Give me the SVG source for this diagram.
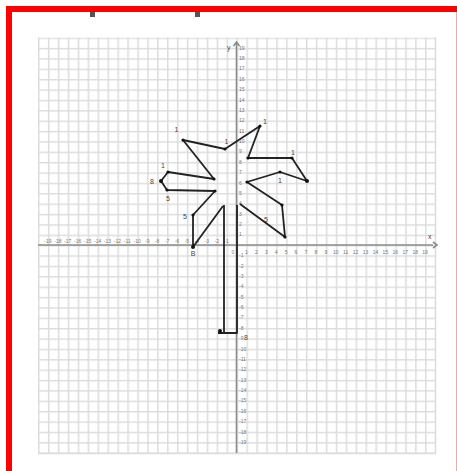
<svg xmlns="http://www.w3.org/2000/svg" width="457" height="471" viewBox="0 0 457 471">
<style>
.tk{font-family:"Liberation Sans",Arial,sans-serif;font-size:5px;fill:#777}
.lb{font-family:"Liberation Sans",Arial,sans-serif;font-size:7px;fill:#444}
.ax{stroke:#8a8a8a;stroke-width:1.6;fill:none}
.ln{stroke:#222;stroke-width:1.8;fill:none;stroke-linejoin:round}
.pt{fill:#111}
</style>
<defs>
<pattern id="grid" x="38" y="37.5" width="9.925" height="10.375" patternUnits="userSpaceOnUse">
<path d="M0.75,0V10.375M0,0.75H9.925" stroke="#dcdcdc" stroke-width="1.5" fill="none"/>
</pattern>
</defs>
<rect width="457" height="471" fill="#fff"/>
<path d="M9,471V9H457" stroke="#ff0000" stroke-width="6" fill="none"/>
<line x1="456.5" y1="12" x2="456.5" y2="471" stroke="#f6a5a5" stroke-width="1"/>
<rect x="90" y="12" width="5" height="5" fill="#555"/>
<rect x="195" y="12" width="5" height="5" fill="#555"/>
<g id="grid-paper">
<rect x="38" y="37.5" width="398" height="416.5" fill="url(#grid)"/>
<path d="M435.5,37.5V453.5M38,453.5H436" stroke="#dcdcdc" stroke-width="1.5"/>
</g>
<g id="axes">
<line class="ax" x1="38" y1="245" x2="433" y2="245"/>
<path d="M433,242L437,245L433,248" class="ax"/>
<line class="ax" x1="236.5" y1="42" x2="236.5" y2="453"/>
<path d="M233.5,46L236.5,42L239.5,46" class="ax"/>
<text class="lb" x="428" y="239">x</text>
<text class="lb" x="227" y="50">y</text>
<text class="tk" x="233" y="254" text-anchor="middle">0</text>
</g>
<g id="x-ticks" text-anchor="middle">
<text class="tk" x="47.9" y="243">-19</text><text class="tk" x="57.9" y="243">-18</text><text class="tk" x="67.8" y="243">-17</text><text class="tk" x="77.7" y="243">-16</text><text class="tk" x="87.6" y="243">-15</text><text class="tk" x="97.6" y="243">-14</text><text class="tk" x="107.5" y="243">-13</text><text class="tk" x="117.4" y="243">-12</text><text class="tk" x="127.3" y="243">-11</text><text class="tk" x="137.3" y="243">-10</text><text class="tk" x="147.2" y="243">-9</text><text class="tk" x="157.1" y="243">-8</text><text class="tk" x="167" y="243">-7</text><text class="tk" x="177" y="243">-6</text><text class="tk" x="186.9" y="243">-5</text><text class="tk" x="196.8" y="243">-4</text><text class="tk" x="206.7" y="243">-3</text><text class="tk" x="216.7" y="243">-2</text><text class="tk" x="226.6" y="243">-1</text>
<text class="tk" x="246.4" y="254">1</text><text class="tk" x="256.4" y="254">2</text><text class="tk" x="266.3" y="254">3</text><text class="tk" x="276.2" y="254">4</text><text class="tk" x="286.1" y="254">5</text><text class="tk" x="296" y="254">6</text><text class="tk" x="306" y="254">7</text><text class="tk" x="315.9" y="254">8</text><text class="tk" x="325.8" y="254">9</text><text class="tk" x="335.8" y="254">10</text><text class="tk" x="345.7" y="254">11</text><text class="tk" x="355.6" y="254">12</text><text class="tk" x="365.5" y="254">13</text><text class="tk" x="375.5" y="254">14</text><text class="tk" x="385.4" y="254">15</text><text class="tk" x="395.3" y="254">16</text><text class="tk" x="405.2" y="254">17</text><text class="tk" x="415.2" y="254">18</text><text class="tk" x="425.1" y="254">19</text>
</g>
<g id="y-ticks">
<text class="tk" x="239" y="236.4">1</text><text class="tk" x="239" y="226">2</text><text class="tk" x="239" y="215.7">3</text><text class="tk" x="239" y="205.3">4</text><text class="tk" x="239" y="194.9">5</text><text class="tk" x="239" y="184.5">6</text><text class="tk" x="239" y="174.2">7</text><text class="tk" x="239" y="163.8">8</text><text class="tk" x="239" y="153.4">9</text><text class="tk" x="239" y="143">10</text><text class="tk" x="239" y="132.7">11</text><text class="tk" x="239" y="122.3">12</text><text class="tk" x="239" y="111.9">13</text><text class="tk" x="239" y="101.5">14</text><text class="tk" x="239" y="91.2">15</text><text class="tk" x="239" y="80.8">16</text><text class="tk" x="239" y="70.4">17</text><text class="tk" x="239" y="60">18</text><text class="tk" x="239" y="49.7">19</text>
<text class="tk" x="239" y="257.2">-1</text><text class="tk" x="239" y="267.5">-2</text><text class="tk" x="239" y="277.9">-3</text><text class="tk" x="239" y="288.3">-4</text><text class="tk" x="239" y="298.7">-5</text><text class="tk" x="239" y="309">-6</text><text class="tk" x="239" y="319.4">-7</text><text class="tk" x="239" y="329.8">-8</text><text class="tk" x="239" y="340.2">-9</text><text class="tk" x="239" y="350.5">-10</text><text class="tk" x="239" y="360.9">-11</text><text class="tk" x="239" y="371.3">-12</text><text class="tk" x="239" y="381.7">-13</text><text class="tk" x="239" y="392">-14</text><text class="tk" x="239" y="402.4">-15</text><text class="tk" x="239" y="412.8">-16</text><text class="tk" x="239" y="423.2">-17</text><text class="tk" x="239" y="433.5">-18</text><text class="tk" x="239" y="443.9">-19</text>
</g>
<g id="connectors">
<path class="ln" d="M183,140L225,149L260,126L248,158L292,158L307,181L280,172L247,182L282,205L285,237L240,204"/>
<path class="ln" d="M183,140L214,179L168,172L161,181L167,190L215,191L193,215L193,247L223,206"/>
<path class="ln" d="M224,205V333" stroke-width="3"/>
<path class="ln" d="M218,333H237V205" stroke="#444" stroke-width="1.8"/>
</g>
<g id="points">
<circle class="pt" cx="183" cy="140" r="1.6"/><circle class="pt" cx="225" cy="149" r="1.6"/><circle class="pt" cx="260" cy="126" r="1.6"/><circle class="pt" cx="248" cy="158" r="1.6"/><circle class="pt" cx="292" cy="158" r="1.6"/><circle class="pt" cx="307" cy="181" r="2"/><circle class="pt" cx="280" cy="172" r="1.6"/><circle class="pt" cx="247" cy="182" r="1.6"/><circle class="pt" cx="282" cy="205" r="1.6"/><circle class="pt" cx="285" cy="237" r="1.6"/><circle class="pt" cx="214" cy="179" r="1.6"/><circle class="pt" cx="168" cy="172" r="1.6"/><circle class="pt" cx="161" cy="181" r="2"/><circle class="pt" cx="167" cy="190" r="1.6"/><circle class="pt" cx="215" cy="191" r="1.6"/><circle class="pt" cx="193" cy="215" r="1.6"/><circle class="pt" cx="193" cy="247" r="2"/><circle class="pt" cx="220" cy="331" r="2"/>
</g>
<g id="labels">
<text class="lb" x="176.5" y="132" text-anchor="middle">1</text>
<text class="lb" x="226.5" y="144" text-anchor="middle">1</text>
<text class="lb" x="265" y="124" text-anchor="middle">1</text>
<text class="lb" x="293" y="155" text-anchor="middle">1</text>
<text class="lb" x="280" y="183" text-anchor="middle">1</text>
<text class="lb" x="163" y="168" text-anchor="middle">1</text>
<text class="lb" x="152" y="184" text-anchor="middle">8</text>
<text class="lb" x="168" y="201" text-anchor="middle">5</text>
<text class="lb" x="185" y="219" text-anchor="middle">5</text>
<text class="lb" x="266" y="222" text-anchor="middle">5</text>
<text class="lb" x="193" y="256" text-anchor="middle">B</text>
<text class="lb" x="246" y="340" text-anchor="middle">8</text>
</g>
</svg>
